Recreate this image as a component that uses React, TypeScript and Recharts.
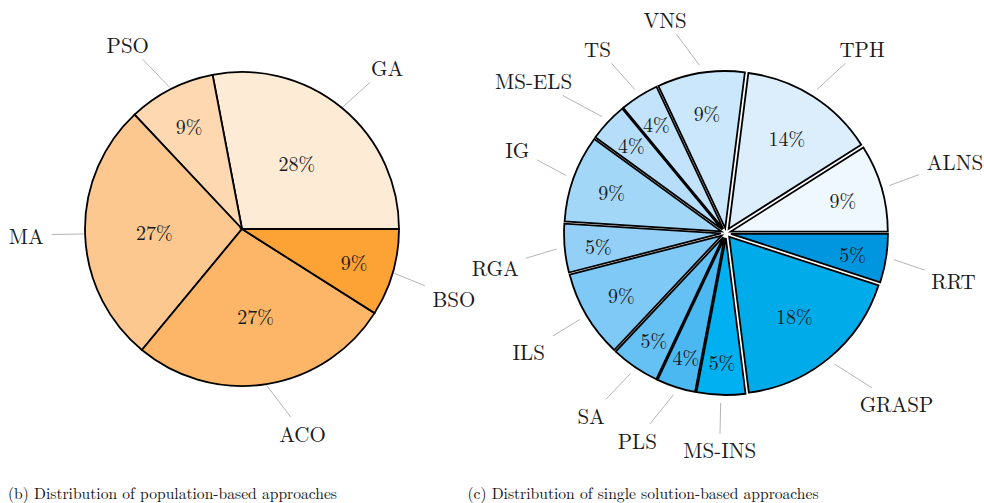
import React from "react";
import { PieChart, Pie, Cell } from "recharts";

// population-based approaches
const popNames = ["GA", "PSO", "MA", "ACO", "BSO"];
const popShares = [28, 9, 27, 27, 9];

// single solution-based approaches
const singleNames = [
  "ALNS", "TPH", "VNS", "TS", "MS-ELS", "IG", "RGA",
  "ILS", "SA", "PLS", "MS-INS", "GRASP", "RRT",
];
const singleShares = [9, 14, 9, 4, 4, 9, 5, 9, 5, 4, 5, 18, 5];

const popColors = ["#fdebd6", "#fdd8b0", "#fdc890", "#fdb667", "#fda234"];
const singleColors = [
  "#eef8fe", "#dcedfb", "#cbe7fb", "#c2e3fb", "#b6defa", "#a3d7f8", "#93cff6",
  "#7ec9f5", "#65c0f3", "#4cb8f1", "#00b0f0", "#00abe9", "#0096df",
];

const W = 984;
const H = 503;
const RADIUS = 157;
const EXPLODE = 5;
const RAD = Math.PI / 180;

const FONT =
  "'Latin Modern Roman', 'CMU Serif', 'Liberation Serif', 'DejaVu Serif', serif";
const NAME_SIZE = 21;
const PCT_SIZE = 20;
const CAP_H = 14;
const PAD = 8.5;

// rough glyph widths (em) for the upper-case labels
const glyphW: Record<string, number> = {
  A: 0.722, B: 0.667, C: 0.667, E: 0.611, G: 0.722, H: 0.722, I: 0.333,
  L: 0.611, M: 0.889, N: 0.722, O: 0.722, P: 0.556, R: 0.667, S: 0.556,
  T: 0.611, V: 0.722, "-": 0.333,
};

// percentage inside the slice, name pinned outside with a grey leader line
const makeLabel = (anchorGap: number, lineGap: number) => (props: any) => {
  const { cx, cy, midAngle, outerRadius, name, value } = props;
  const cos = Math.cos(midAngle * RAD);
  const sin = Math.sin(midAngle * RAD);

  const ri = outerRadius * (0.836 - 0.0103 * value);

  const w =
    String(name).split("").reduce((s, ch) => s + (glyphW[ch] ?? 0.7), 0) *
    NAME_SIZE;
  const hx = w / 2 + PAD;
  const hy = CAP_H / 2 + PAD;
  const ra = outerRadius + anchorGap;
  const sx = cos > 0.05 ? 1 : cos < -0.05 ? -1 : 0;
  const sy = sin > 0.05 ? -1 : sin < -0.05 ? 1 : 0;
  const tx = cx + ra * cos + sx * hx;
  const ty = cy - ra * sin + sy * hy;

  const x0 = cx + (outerRadius + lineGap) * cos;
  const y0 = cy - (outerRadius + lineGap) * sin;
  const vx = tx - x0;
  const vy = ty - y0;
  const k = Math.max(Math.abs(vx) / hx, Math.abs(vy) / hy);

  return (
    <g>
      <line
        x1={x0}
        y1={y0}
        x2={tx - vx / k}
        y2={ty - vy / k}
        stroke="#b5b5b5"
        strokeWidth={1}
      />
      <text
        x={cx + ri * cos}
        y={cy - ri * sin}
        textAnchor="middle"
        dominantBaseline="central"
        style={{ fontFamily: FONT }}
        fontSize={PCT_SIZE}
        fill="#1a1a1a"
      >
        {`${value}%`}
      </text>
      <text
        x={tx}
        y={ty}
        textAnchor="middle"
        dominantBaseline="central"
        style={{ fontFamily: FONT }}
        fontSize={NAME_SIZE}
        fill="#1a1a1a"
      >
        {name}
      </text>
    </g>
  );
};

const popData = popNames.map((name, i) => ({ name, share: popShares[i] }));

// every slice of the right pie is its own Pie, pushed out along its mid angle
const singleTotal = singleShares.reduce((a, b) => a + b, 0);
let acc = 0;
const singleSlices = singleNames.map((name, i) => {
  const startAngle = (acc / singleTotal) * 360;
  acc += singleShares[i];
  const endAngle = (acc / singleTotal) * 360;
  return { name, share: singleShares[i], startAngle, endAngle };
});

const captionStyle: React.CSSProperties = {
  position: "absolute",
  top: 483,
  width: 500,
  textAlign: "center",
  fontFamily: FONT,
  fontSize: 15.6,
  lineHeight: "19px",
  color: "#111",
  whiteSpace: "nowrap",
};

export default function App() {
  const leftLabel = makeLabel(33.5, 1.5);
  const rightLabel = makeLabel(39, 8);
  return (
    <div
      style={{
        position: "absolute",
        left: 0,
        top: 0,
        width: W,
        height: H,
        background: "#fff",
        fontFamily: FONT,
        overflow: "hidden",
      }}
    >
      <PieChart
        width={W}
        height={H}
        margin={{ top: 0, right: 0, bottom: 0, left: 0 }}
      >
        <Pie
          data={popData}
          dataKey="share"
          nameKey="name"
          cx={242}
          cy={229}
          outerRadius={RADIUS}
          startAngle={0}
          endAngle={360}
          stroke="#000"
          strokeWidth={1.8}
          label={leftLabel}
          labelLine={false}
          isAnimationActive={false}
        >
          {popData.map((d, i) => (
            <Cell key={d.name} fill={popColors[i]} />
          ))}
        </Pie>
        {singleSlices.map((s, i) => {
          const mid = ((s.startAngle + s.endAngle) / 2) * RAD;
          return (
            <Pie
              key={s.name}
              data={[{ name: s.name, share: s.share }]}
              dataKey="share"
              nameKey="name"
              cx={726 + EXPLODE * Math.cos(mid)}
              cy={233 - EXPLODE * Math.sin(mid)}
              outerRadius={RADIUS}
              startAngle={s.startAngle}
              endAngle={s.endAngle}
              stroke="#000"
              strokeWidth={1.8}
              label={rightLabel}
              labelLine={false}
              isAnimationActive={false}
            >
              <Cell fill={singleColors[i]} />
            </Pie>
          );
        })}
      </PieChart>
      <div style={{ ...captionStyle, left: 172.5 - 250 }}>
        (b) Distribution of population-based approaches
      </div>
      <div style={{ ...captionStyle, left: 643 - 250 }}>
        (c) Distribution of single solution-based approaches
      </div>
    </div>
  );
}
